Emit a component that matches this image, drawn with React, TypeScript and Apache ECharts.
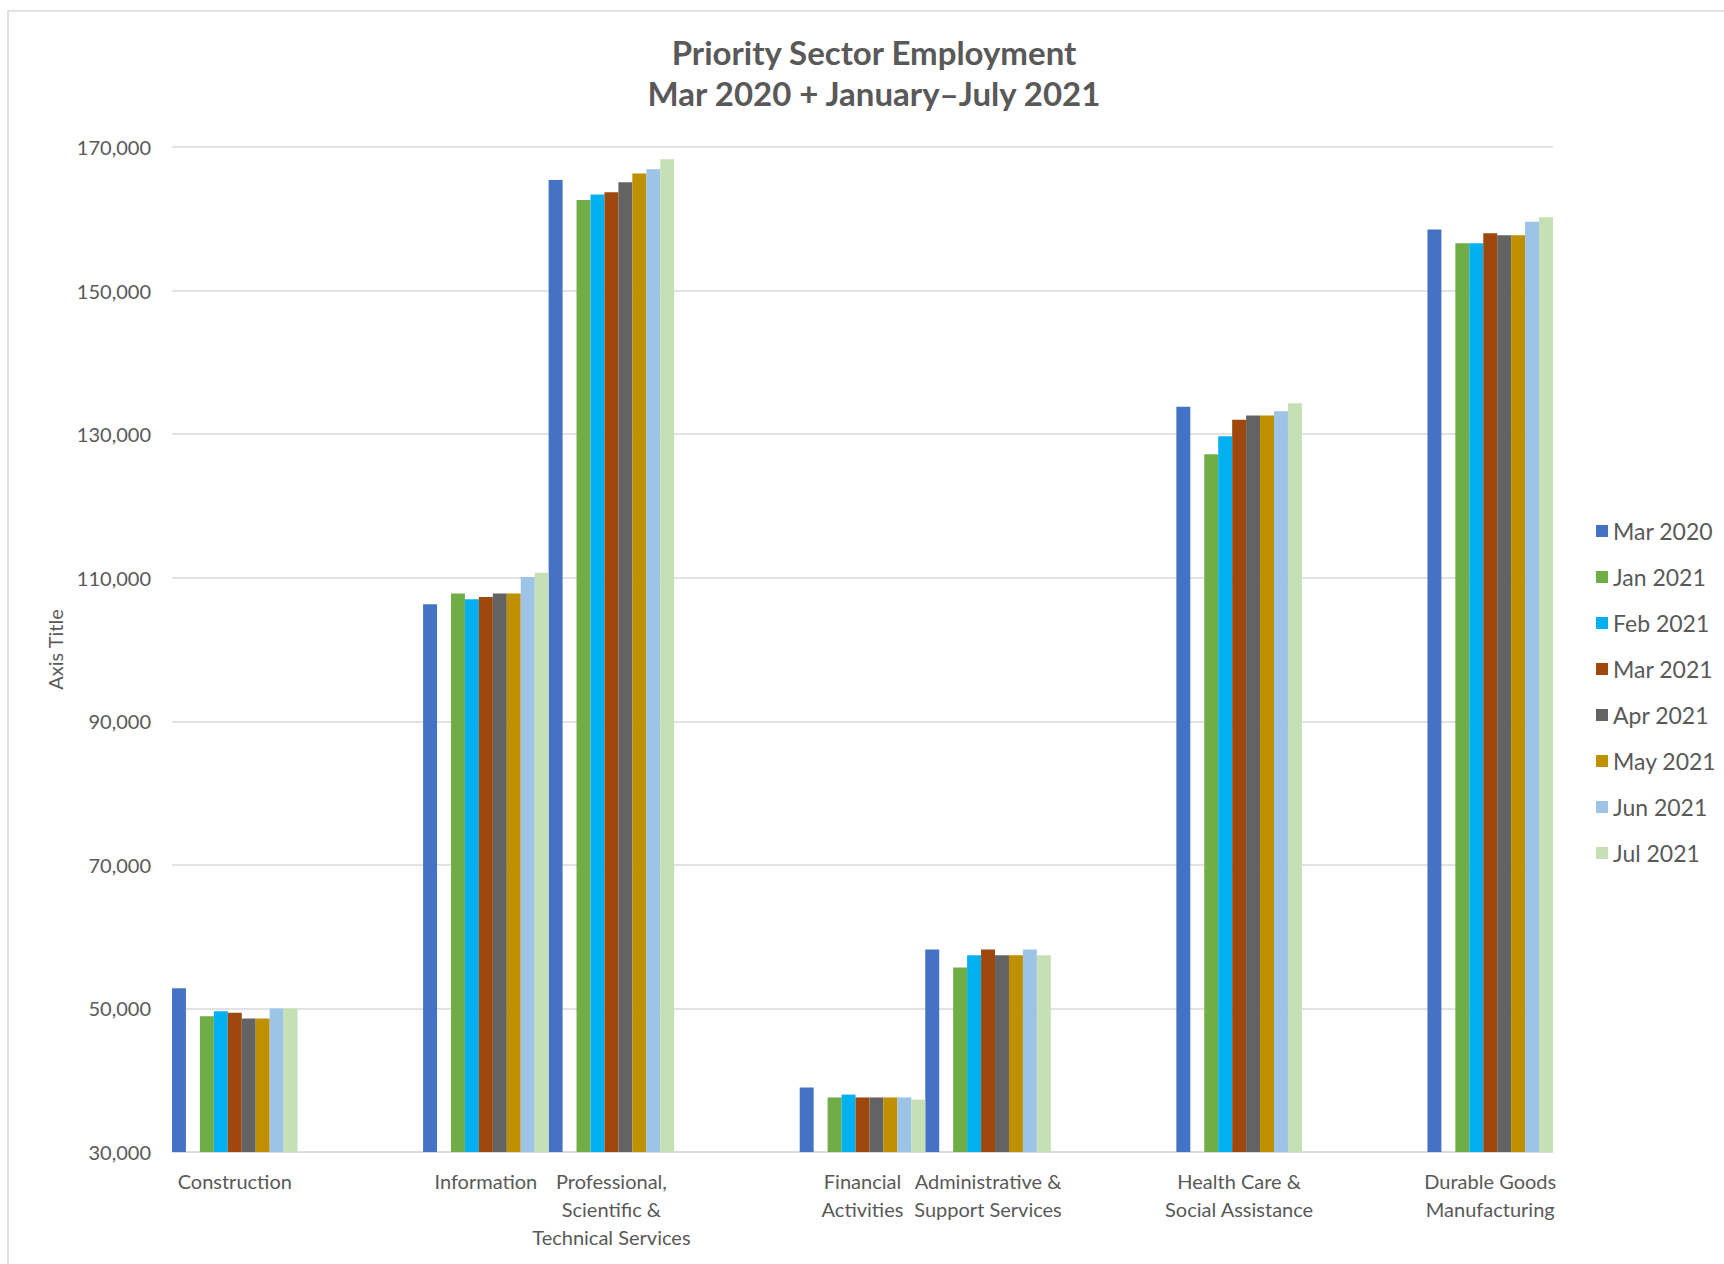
import React, { useEffect, useRef } from "react";
import * as echarts from "echarts";

// ---- DATA ----
const categories = [
  "Construction",
  "",
  "Information",
  "Professional,\nScientific &\nTechnical Services",
  "",
  "Financial\nActivities",
  "Administrative &\nSupport Services",
  "",
  "Health Care &\nSocial Assistance",
  "",
  "Durable Goods\nManufacturing",
];

const seriesNames = ["Mar 2020", "Jan 2021", "Feb 2021", "Mar 2021", "Apr 2021", "May 2021", "Jun 2021", "Jul 2021"];

const mar2020 = [52800, null, 106300, 165400, null, 39000, 58200, null, 133800, null, 158500];
const gapSlot = [null, null, null, null, null, null, null, null, null, null, null];
const jan2021 = [48900, null, 107800, 162600, null, 37600, 55700, null, 127200, null, 156600];
const feb2021 = [49600, null, 107000, 163400, null, 38000, 57400, null, 129700, null, 156600];
const mar2021 = [49400, null, 107300, 163700, null, 37600, 58200, null, 132000, null, 158000];
const apr2021 = [48600, null, 107800, 165100, null, 37600, 57400, null, 132600, null, 157700];
const may2021 = [48600, null, 107800, 166300, null, 37600, 57400, null, 132600, null, 157700];
const jun2021 = [50000, null, 110100, 166900, null, 37600, 58200, null, 133200, null, 159600];
const jul2021 = [50000, null, 110700, 168300, null, 37300, 57400, null, 134300, null, 160200];

const yTicksMin = 30000;
const yTicksMax = 170000;
const yTickStep = 20000;

const colors = ["#4472C4", "#70AD47", "#00B0F0", "#9E480E", "#636363", "#BF9000", "#9DC3E6", "#C5E0B4"];

const TEXT = "#595959";
const GRID = "#d9d9d9";
const FONT = "Lato, 'Open Sans', sans-serif";

export default function App() {
  const ref = useRef<HTMLDivElement>(null);

  useEffect(() => {
    if (!ref.current) return;
    const chart = echarts.init(ref.current, undefined, { renderer: "svg" });

    const valueSets = [mar2020, jan2021, feb2021, mar2021, apr2021, may2021, jun2021, jul2021];
    const barBase = {
      type: "bar" as const,
      barGap: "0%",
      barCategoryGap: "0%",
    };
    const series: any[] = [];
    series.push({ ...barBase, name: seriesNames[0], data: valueSets[0], itemStyle: { color: colors[0] } });
    series.push({ ...barBase, name: "", data: gapSlot, itemStyle: { color: "transparent" } });
    for (let i = 1; i < seriesNames.length; i++) {
      series.push({ ...barBase, name: seriesNames[i], data: valueSets[i], itemStyle: { color: colors[i] } });
    }

    chart.setOption({
      animation: false,
      backgroundColor: "#ffffff",
      textStyle: { fontFamily: FONT },
      grid: { left: 172, right: 171, top: 147, bottom: 112, containLabel: false },
      graphic: [
        {
          type: "rect",
          shape: { x: 8, y: 11, width: 1800, height: 1400 },
          style: { fill: "none", stroke: GRID, lineWidth: 1.5 },
          silent: true,
        },
        {
          type: "text",
          x: 874,
          y: 52,
          style: {
            text: "Priority Sector Employment",
            fill: TEXT,
            font: `bold 33px ${FONT}`,
            textAlign: "center",
            textVerticalAlign: "middle",
          },
        },
        {
          type: "text",
          x: 874,
          y: 93,
          style: {
            text: "Mar 2020 + January\u2013July 2021",
            fill: TEXT,
            font: `bold 33px ${FONT}`,
            textAlign: "center",
            textVerticalAlign: "middle",
          },
        },
      ],
      legend: {
        data: seriesNames,
        orient: "vertical",
        left: 1591,
        top: 514,
        itemWidth: 12,
        itemHeight: 12,
        itemGap: 22,
        icon: "rect",
        textStyle: { fontSize: 23, color: TEXT, lineHeight: 24, fontFamily: FONT },
      },
      xAxis: {
        type: "category",
        data: categories,
        axisTick: { show: false },
        axisLine: { show: true, lineStyle: { color: GRID, width: 1.5 } },
        axisLabel: {
          interval: 0,
          color: TEXT,
          fontSize: 20,
          lineHeight: 28,
          margin: 15,
          fontFamily: FONT,
        },
      },
      yAxis: {
        type: "value",
        min: yTicksMin,
        max: yTicksMax,
        interval: yTickStep,
        name: "Axis Title",
        nameLocation: "middle",
        nameGap: 107,
        nameTextStyle: { color: TEXT, fontSize: 20, fontFamily: FONT },
        axisLine: { show: false },
        axisTick: { show: false },
        axisLabel: {
          color: TEXT,
          fontSize: 20,
          margin: 21,
          fontFamily: FONT,
          formatter: (v: number) => v.toLocaleString("en-US"),
        },
        splitLine: { show: true, lineStyle: { color: GRID, width: 1.5 } },
      },
      series,
    });

    return () => {
      chart.dispose();
    };
  }, []);

  return (
    <div
      ref={ref}
      style={{ position: "absolute", left: 0, top: 0, width: 1724, height: 1264 }}
    />
  );
}
